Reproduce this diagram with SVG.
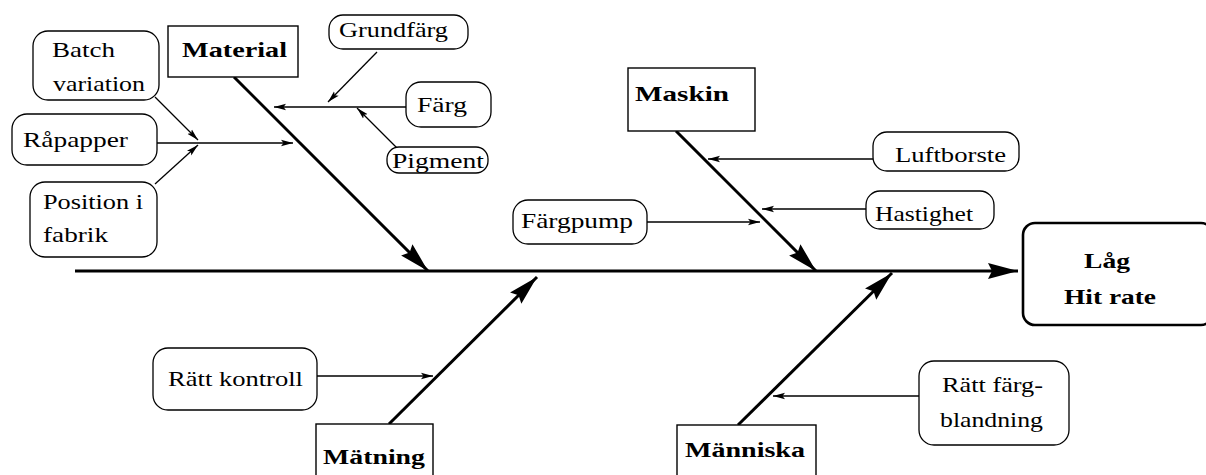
<svg xmlns="http://www.w3.org/2000/svg" width="1206" height="475" viewBox="0 0 1206 475" font-family="Liberation Serif, DejaVu Serif, Noto Serif, serif">
  <style>
    text { font-size: 22px; fill: #000; }
    .b { font-weight: bold; }
    .cause { fill: #fff; stroke: #000; stroke-width: 1.3; }
    .cat { fill: #fff; stroke: #000; stroke-width: 1.4; }
    .effect { fill: #fff; stroke: #000; stroke-width: 2.6; }
    .thin { stroke: #000; stroke-width: 1.3; fill: none; marker-end: url(#sm); }
    .bone { stroke: #000; stroke-width: 3; fill: none; marker-end: url(#lg); }
  </style>
  <defs>
    <marker id="sm" markerUnits="userSpaceOnUse" markerWidth="14" markerHeight="8" refX="12" refY="4" orient="auto">
      <path d="M0,0.8 L12,4 L0,7.2 L2.5,4 z" fill="#000"/>
    </marker>
    <marker id="lg" markerUnits="userSpaceOnUse" markerWidth="32" markerHeight="20" refX="30" refY="10" orient="auto">
      <path d="M0,2 L30,10 L0,18 L4,10 z" fill="#000"/>
    </marker>
  </defs>

  <!-- connectors: spine, bones and cause arrows -->
  <g id="connectors">
    <line class="bone" x1="75" y1="271" x2="1018" y2="271"/>
    <line class="bone" x1="234" y1="77" x2="428" y2="271"/>
    <line class="bone" x1="676" y1="131" x2="816" y2="271"/>
    <line class="bone" x1="389" y1="424" x2="537" y2="277"/>
    <line class="bone" x1="738" y1="425" x2="892" y2="273"/>

    <line class="thin" x1="377" y1="52" x2="328" y2="102"/>
    <line class="thin" x1="397" y1="148" x2="357" y2="108"/>
    <line class="thin" x1="406" y1="107" x2="274" y2="107"/>
    <line class="thin" x1="155" y1="97" x2="198" y2="140"/>
    <line class="thin" x1="155" y1="184" x2="198" y2="145"/>
    <line class="thin" x1="157" y1="143" x2="293" y2="143"/>
    <line class="thin" x1="873" y1="159" x2="708" y2="159"/>
    <line class="thin" x1="866" y1="209" x2="762" y2="209"/>
    <line class="thin" x1="647" y1="222" x2="760" y2="222"/>
    <line class="thin" x1="317" y1="376" x2="433" y2="376"/>
    <line class="thin" x1="919" y1="396" x2="773" y2="396"/>
  </g>

  <!-- effect -->
  <g id="effect">
    <rect class="effect" x="1023" y="223" width="190" height="102" rx="12"/>
    <text class="b" x="1084" y="268" textLength="46" lengthAdjust="spacingAndGlyphs">Låg</text>
    <text class="b" x="1064" y="304" textLength="92" lengthAdjust="spacingAndGlyphs">Hit rate</text>
  </g>

  <!-- categories -->
  <g id="material">
    <rect class="cat" x="168" y="26" width="130" height="51"/>
    <text class="b" x="182" y="57" textLength="105" lengthAdjust="spacingAndGlyphs">Material</text>
  </g>
  <g id="maskin">
    <rect class="cat" x="628" y="68" width="127" height="63"/>
    <text class="b" x="635" y="101" textLength="94" lengthAdjust="spacingAndGlyphs">Maskin</text>
  </g>
  <g id="matning">
    <rect class="cat" x="316" y="424" width="117" height="70"/>
    <text class="b" x="323" y="464" textLength="102" lengthAdjust="spacingAndGlyphs">Mätning</text>
  </g>
  <g id="manniska">
    <rect class="cat" x="677" y="425" width="139" height="70"/>
    <text class="b" x="685" y="457" textLength="120" lengthAdjust="spacingAndGlyphs">Människa</text>
  </g>

  <!-- causes -->
  <g id="batch">
    <rect class="cause" x="33" y="31" width="126" height="69" rx="15"/>
    <text x="52" y="57" textLength="63" lengthAdjust="spacingAndGlyphs">Batch</text>
    <text x="53" y="91" textLength="92" lengthAdjust="spacingAndGlyphs">variation</text>
  </g>
  <g id="rapapper">
    <rect class="cause" x="12" y="114" width="145" height="51" rx="15"/>
    <text x="23" y="147" textLength="105" lengthAdjust="spacingAndGlyphs">Råpapper</text>
  </g>
  <g id="position">
    <rect class="cause" x="30" y="182" width="127" height="75" rx="15"/>
    <text x="43" y="209" textLength="100" lengthAdjust="spacingAndGlyphs">Position i</text>
    <text x="43" y="242" textLength="65" lengthAdjust="spacingAndGlyphs">fabrik</text>
  </g>
  <g id="grundfarg">
    <rect class="cause" x="329" y="15" width="139" height="34" rx="14"/>
    <text x="339" y="37" textLength="109" lengthAdjust="spacingAndGlyphs">Grundfärg</text>
  </g>
  <g id="farg">
    <rect class="cause" x="406" y="82" width="85" height="45" rx="15"/>
    <text x="417" y="112" textLength="50" lengthAdjust="spacingAndGlyphs">Färg</text>
  </g>
  <g id="pigment">
    <rect class="cause" x="387" y="147" width="101" height="26" rx="12"/>
    <text x="392" y="168" textLength="92" lengthAdjust="spacingAndGlyphs">Pigment</text>
  </g>
  <g id="luftborste">
    <rect class="cause" x="873" y="132" width="146" height="39" rx="14"/>
    <text x="895" y="162" textLength="111" lengthAdjust="spacingAndGlyphs">Luftborste</text>
  </g>
  <g id="hastighet">
    <rect class="cause" x="866" y="191" width="128" height="38" rx="14"/>
    <text x="875" y="221" textLength="98" lengthAdjust="spacingAndGlyphs">Hastighet</text>
  </g>
  <g id="fargpump">
    <rect class="cause" x="513" y="200" width="134" height="44" rx="15"/>
    <text x="521" y="228" textLength="112" lengthAdjust="spacingAndGlyphs">Färgpump</text>
  </g>
  <g id="ratt-kontroll">
    <rect class="cause" x="153" y="348" width="164" height="62" rx="15"/>
    <text x="168" y="386" textLength="135" lengthAdjust="spacingAndGlyphs">Rätt kontroll</text>
  </g>
  <g id="ratt-fargblandning">
    <rect class="cause" x="919" y="361" width="150" height="84" rx="15"/>
    <text x="942" y="392" textLength="101" lengthAdjust="spacingAndGlyphs">Rätt färg-</text>
    <text x="940" y="427" textLength="103" lengthAdjust="spacingAndGlyphs">blandning</text>
  </g>
</svg>
